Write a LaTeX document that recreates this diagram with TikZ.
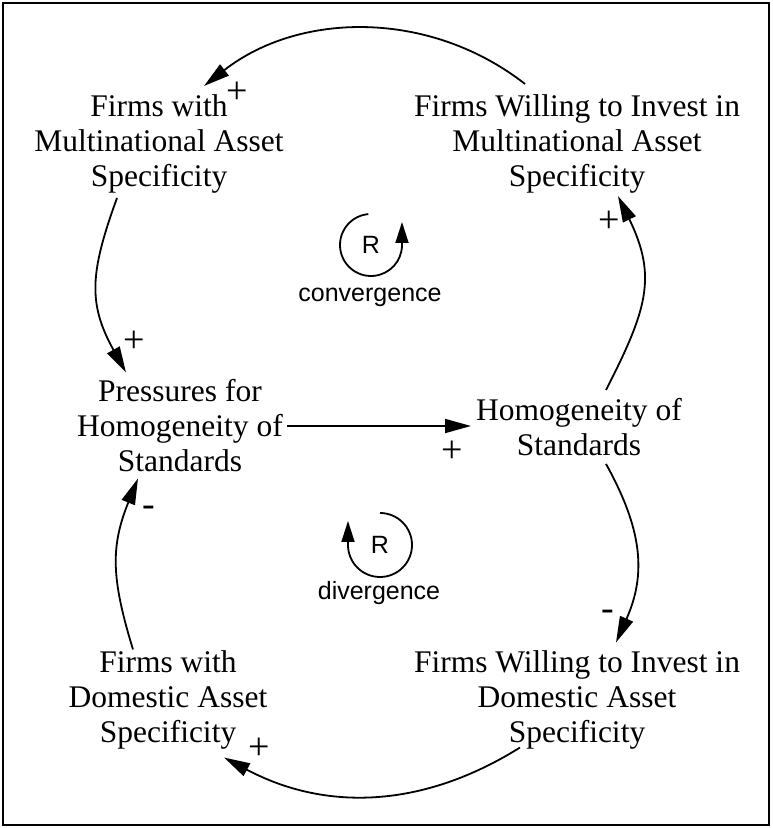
\documentclass[tikz,border=0pt]{standalone}
\usepackage{fontspec}
\setmainfont{Liberation Serif}
\newfontfamily\loopfont{Liberation Sans}
\usetikzlibrary{arrows.meta,calc}
\tikzset{
  var/.style={align=center,inner sep=0pt,font=\fontsize{31.5}{35}\selectfont},
  pol/.style={inner sep=0pt,font=\fontsize{38}{40}\selectfont},
  arr/.style={-{Triangle[length=26pt,width=14pt]},line width=1.8pt},
  looparr/.style={-{Triangle[length=21pt,width=13pt]},line width=1.8pt},
  looplbl/.style={inner sep=0pt,font=\loopfont\fontsize{25}{27}\selectfont},
}

\begin{document}
\begin{tikzpicture}[x=1pt,y=1pt]
  \useasboundingbox (0,0) rectangle (772,828);
  \draw[line width=2pt] (3,3) rectangle (769,825);

  % variables
  \node[var] (mnFirms)   at (159,684.5) {Firms with\\Multinational Asset\\Specificity};
  \node[var] (mnWilling) at (577,684.5) {Firms Willing to Invest in\\Multinational Asset\\Specificity};
  \node[var] (press)     at (180,402)   {Pressures for\\Homogeneity of\\Standards};
  \node[var] (homog)     at (579,401)   {Homogeneity of\\Standards};
  \node[var] (dmWilling) at (577,128)   {Firms Willing to Invest in\\Domestic Asset\\Specificity};
  \node[var] (dmFirms)   at (168,128)   {Firms with\\Domestic Asset\\Specificity};

  % links
  \draw[arr] ([shift={(-52,10)}]mnWilling.north) .. controls +(142:121) and +(38:121) .. ([shift={(45,8)}]mnFirms.north);
  \draw[arr] ([shift={(27,8)}]homog.north) .. controls +(63:90) and +(-64:90) .. ([shift={(41,-3)}]mnWilling.south);
  \draw[arr] ([shift={(-42,-5)}]mnFirms.south) .. controls +(250:79) and +(119:79) .. ([shift={(-54,7)}]press.north);
  \draw[arr,shorten <=4pt,shorten >=5pt] (press.east) -- (press.east -| homog.west);
  \draw[arr] ([shift={(27,-8)}]homog.south) .. controls +(-61:75) and +(66:75) .. ([shift={(39,8)}]dmWilling.north);
  \draw[arr] ([shift={(-57,2)}]dmWilling.south) .. controls +(212:115) and +(-28:115) .. ([shift={(56,-8)}]dmFirms.south);
  \draw[arr] ([shift={(-35,1)}]dmFirms.north) .. controls +(107:74) and +(248:74) .. ([shift={(-42,-6)}]press.south);

  % polarities
  \node[pol] (p1) at (237,735) {+};
  \node[pol] (p2) at (609,606) {+};
  \node[pol] (p3) at (134,486) {+};
  \node[pol] (p4) at (452,376) {+};
  \node[pol] (p5) at (608,213) {-};
  \node[pol] (p6) at (259,79)  {+};
  \node[pol] (p7) at (149,317) {-};

  % loops
  \node[looplbl] (convR)   at (371,583) {R};
  \node[looplbl] (convLbl) at (370,531) {convergence};
  \draw[looparr] (convR.center) ++(95:31) arc[start angle=95,end angle=360,radius=31] -- ++(0,23);

  \node[looplbl] (divR)   at (380,283) {R};
  \node[looplbl] (divLbl) at (379,235) {divergence};
  \draw[looparr] (divR.center) ++(90:32) arc[start angle=90,end angle=-180,radius=32] -- ++(0,24);
\end{tikzpicture}
\end{document}
